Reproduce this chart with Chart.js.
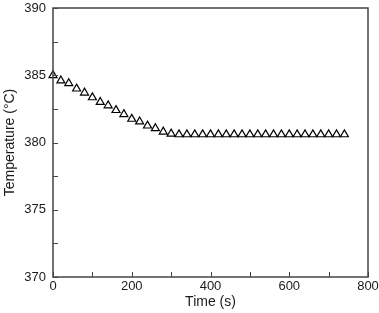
<!DOCTYPE html>
<html>
<head>
<meta charset="utf-8">
<script src="https://cdn.jsdelivr.net/npm/chart.js@4.4.0/dist/chart.umd.min.js"></script>
<style>
  html, body { margin: 0; padding: 0; background: #ffffff; }
  #wrap { width: 379px; height: 313px; position: relative; }
</style>
</head>
<body>
<div id="wrap"><canvas id="c" width="379" height="313"></canvas></div>
<script>
const timeS = [0,20,40,60,80,100,120,140,160,180,200,220,240,260,280,300,320,340,360,380,400,420,440,460,480,500,520,540,560,580,600,620,640,660,680,700,720,740];
const temperatureC = [385.0,384.6,384.4,384.0,383.7,383.35,383.0,382.75,382.4,382.1,381.75,381.55,381.25,381.05,380.8,380.65,380.6,380.6,380.6,380.6,380.6,380.6,380.6,380.6,380.6,380.6,380.6,380.6,380.6,380.6,380.6,380.6,380.6,380.6,380.6,380.6,380.6,380.6];
const xLabels = [0,200,400,600,800];
const yLabels = [370,375,380,385,390];

const frameColor = '#444444';
const textColor = '#1a1a1a';

const framePlugin = {
  id: 'frame',
  afterDraw(chart) {
    const ctx = chart.ctx, a = chart.chartArea;
    const xs = chart.scales.x, ys = chart.scales.y;
    ctx.save();
    ctx.strokeStyle = frameColor;
    ctx.lineWidth = 1.5;
    ctx.strokeRect(a.left, a.top, a.right - a.left, a.bottom - a.top);
    ctx.lineWidth = 1;
    ctx.beginPath();
    ys.ticks.forEach(t => {
      const y = Math.round(ys.getPixelForValue(t.value)) + 0.5;
      ctx.moveTo(a.left, y); ctx.lineTo(a.left + 5, y);
    });
    xs.ticks.forEach(t => {
      const x = Math.round(xs.getPixelForValue(t.value)) + 0.5;
      ctx.moveTo(x, a.bottom); ctx.lineTo(x, a.bottom - 5);
    });
    ctx.stroke();
    ctx.restore();
  }
};

new Chart(document.getElementById('c'), {
  type: 'scatter',
  data: {
    datasets: [{
      data: timeS.map((t, i) => ({ x: t, y: temperatureC[i] })),
      pointStyle: 'triangle',
      pointRadius: 4.6,
      pointBackgroundColor: '#ffffff',
      pointBorderColor: '#000000',
      pointBorderWidth: 1.2,
      showLine: false,
      clip: false
    }]
  },
  options: {
    responsive: false,
    animation: false,
    devicePixelRatio: 1,
    layout: { padding: { top: 8, right: 11, left: 0, bottom: 0 } },
    plugins: { legend: { display: false }, tooltip: { enabled: false } },
    scales: {
      x: {
        type: 'linear', min: 0, max: 800,
        grid: { display: false, drawTicks: false },
        border: { display: false },
        ticks: {
          stepSize: 100, autoSkip: false, maxRotation: 0, padding: 2,
          color: textColor, font: { family: 'Liberation Sans, Arial, sans-serif', size: 13 },
          callback: v => xLabels.includes(v) ? String(v) : ''
        },
        title: {
          display: true, text: 'Time (s)', color: textColor, padding: { top: 0, bottom: 2 },
          font: { family: 'Liberation Sans, Arial, sans-serif', size: 14 }
        },
        afterFit: s => { s.height = 36; s.paddingLeft = 0; s.paddingRight = 0; }
      },
      y: {
        min: 370, max: 390,
        grid: { display: false, drawTicks: false },
        border: { display: false },
        ticks: {
          stepSize: 2.5, autoSkip: false, padding: 7,
          color: textColor, font: { family: 'Liberation Sans, Arial, sans-serif', size: 13 },
          callback: v => yLabels.includes(v) ? String(v) : ''
        },
        title: {
          display: true, text: 'Temperature (°C)', color: textColor, padding: { top: 2, bottom: 0 },
          font: { family: 'Liberation Sans, Arial, sans-serif', size: 14 }
        },
        afterFit: s => { s.width = 53; s.paddingTop = 0; s.paddingBottom = 0; }
      }
    }
  },
  plugins: [framePlugin]
});
</script>
</body>
</html>
